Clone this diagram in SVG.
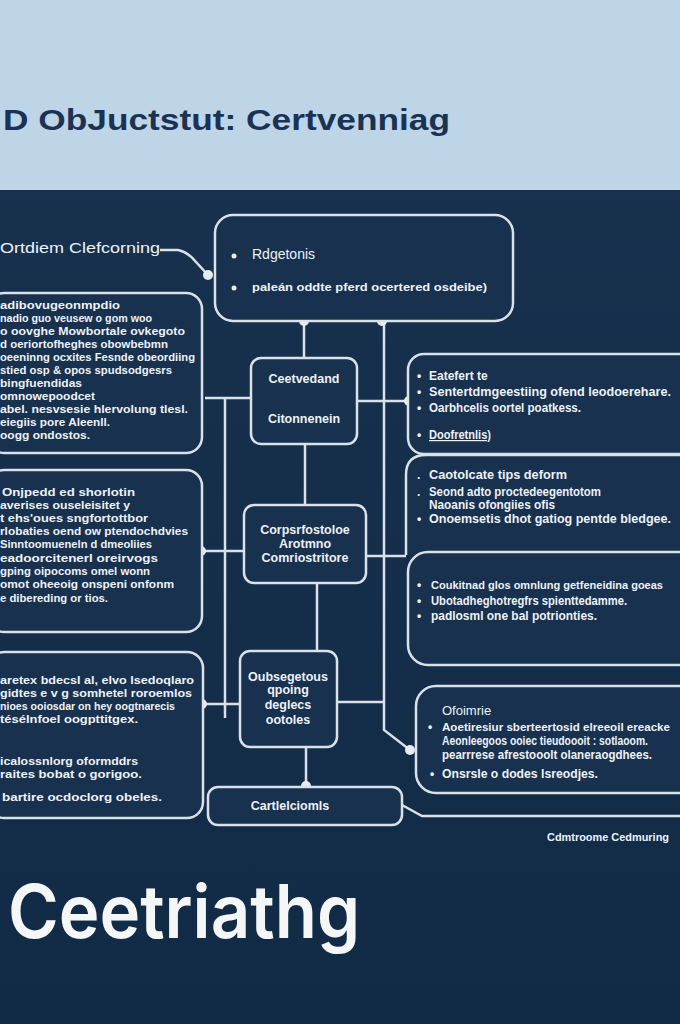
<svg xmlns="http://www.w3.org/2000/svg" width="680" height="1024" viewBox="0 0 680 1024">
<defs>
<linearGradient id="bg" x1="0" y1="0" x2="0" y2="1">
<stop offset="0" stop-color="#18324f"/>
<stop offset="1" stop-color="#112b47"/>
</linearGradient>
<style>
.box{fill:#17314e;stroke:#d9e1e9;stroke-width:2.5}
.ln{fill:none;stroke:#d9e1e9;stroke-width:2.5}
.dot{fill:#e6ecf2}
.t{font-family:"Liberation Sans",Arial,sans-serif;fill:#eef2f6}
.s{font-size:11.5px;font-weight:bold}
.m{font-size:12px;font-weight:bold}
.c{font-size:12.5px;font-weight:bold;text-anchor:middle}
</style>
</defs>
<rect width="680" height="1024" fill="url(#bg)"/>
<rect width="680" height="190" fill="#bdd5e7"/>
<text x="3" y="130" class="t" style="font-size:29px;font-weight:bold;fill:#1b3352" textLength="447" lengthAdjust="spacingAndGlyphs">D ObJuctstut: Certvenniag</text>

<g id="connectors">
<path class="ln" d="M160 250 L178 250 Q188 252 196 262 L208 275"/>
<path class="ln" d="M304 321 V358"/>
<path class="ln" d="M384 321 V730 L410 750"/>
<path class="ln" d="M205 398 H251"/>
<path class="ln" d="M225 398 V718"/>
<path class="ln" d="M357 401 H409"/>
<path class="ln" d="M305 444 V505"/>
<path class="ln" d="M201 551 H244"/>
<path class="ln" d="M366 556 H406"/>
<path class="ln" d="M317 583 V651"/>
<path class="ln" d="M203 704 H240"/>
<path class="ln" d="M337 702 H384"/>
<path class="ln" d="M306 747 V787"/>
<path class="ln" d="M402 805 L422 816 H680"/>
<circle class="dot" cx="208" cy="275" r="5"/>
<circle class="dot" cx="304" cy="321" r="5"/>
<circle class="dot" cx="382" cy="321" r="5"/>
<circle class="dot" cx="409" cy="401" r="5"/>
<circle class="dot" cx="201" cy="551" r="5"/>
<circle class="dot" cx="202" cy="704" r="5"/>
<circle class="dot" cx="410" cy="750" r="5"/>
<circle class="dot" cx="306" cy="786" r="5"/>
</g>

<g id="label-top">
<text x="0" y="253" class="t" style="font-size:15px" textLength="160" lengthAdjust="spacingAndGlyphs">Ortdiem Clefcorning</text>
</g>

<g id="top-box">
<rect class="box" x="215" y="215" width="298" height="106" rx="18"/>
<circle class="dot" cx="234" cy="256" r="2.5"/>
<circle class="dot" cx="234" cy="288" r="2.5"/>
<text x="252" y="259" class="t" style="font-size:14px">Rdgetonis</text>
<text x="252" y="291" class="t s" textLength="235" lengthAdjust="spacingAndGlyphs">paleán oddte pferd ocertered osdeibe)</text>
</g>

<g id="left-1">
<rect class="box" x="-12" y="293" width="214" height="160" rx="16"/>
<text class="t s" x="0" y="309" textLength="120" lengthAdjust="spacingAndGlyphs">adibovugeonmpdio</text>
<text class="t s" x="0" y="322" textLength="152" lengthAdjust="spacingAndGlyphs">nadio guo veusew o gom woo</text>
<text class="t s" x="0" y="335" textLength="185" lengthAdjust="spacingAndGlyphs">o oovghe Mowbortale ovkegoto</text>
<text class="t s" x="0" y="348" textLength="168" lengthAdjust="spacingAndGlyphs">d oeriortofheghes obowbebmn</text>
<text class="t s" x="0" y="361" textLength="195" lengthAdjust="spacingAndGlyphs">oeeninng ocxites Fesnde obeordiing</text>
<text class="t s" x="0" y="374" textLength="172" lengthAdjust="spacingAndGlyphs">stied osp &amp; opos spudsodgesrs</text>
<text class="t s" x="0" y="387" textLength="82" lengthAdjust="spacingAndGlyphs">bingfuendidas</text>
<text class="t s" x="0" y="400" textLength="95" lengthAdjust="spacingAndGlyphs">omnowepoodcet</text>
<text class="t s" x="0" y="413" textLength="188" lengthAdjust="spacingAndGlyphs">abel. nesvsesie hlervolung tlesl.</text>
<text class="t s" x="0" y="426" textLength="110" lengthAdjust="spacingAndGlyphs">eiegiis pore Aleenll.</text>
<text class="t s" x="0" y="439" textLength="90" lengthAdjust="spacingAndGlyphs">oogg ondostos.</text>
</g>

<g id="center-1">
<rect class="box" x="251" y="358" width="106" height="86" rx="10"/>
<text class="t c" x="304" y="383">Ceetvedand</text>
<text class="t c" x="304" y="423">Citonnenein</text>
</g>

<g id="right-1">
<rect class="box" x="408" y="354" width="292" height="100" rx="16"/>
<text class="t m" x="417" y="380">•</text>
<text class="t m" x="429" y="380">Eatefert te</text>
<text class="t m" x="417" y="396">•</text>
<text class="t m" x="429" y="396" textLength="242" lengthAdjust="spacingAndGlyphs">Sentertdmgeestiing ofend leodoerehare.</text>
<text class="t m" x="417" y="412">•</text>
<text class="t m" x="429" y="412" textLength="152" lengthAdjust="spacingAndGlyphs">Oarbhcelis oortel poatkess.</text>
<text class="t m" x="417" y="439">•</text>
<text class="t m" x="429" y="439" text-decoration="underline" textLength="62" lengthAdjust="spacingAndGlyphs">Doofretnlis)</text>
</g>

<g id="left-2">
<rect class="box" x="-12" y="470" width="214" height="162" rx="16"/>
<text class="t s" x="2" y="496" textLength="133" lengthAdjust="spacingAndGlyphs">Onjpedd ed shorlotin</text>
<text class="t s" x="0" y="509" textLength="130" lengthAdjust="spacingAndGlyphs">averises ouseleisitet y</text>
<text class="t s" x="0" y="522" textLength="148" lengthAdjust="spacingAndGlyphs">t ehs'oues sngfortottbor</text>
<text class="t s" x="0" y="535" textLength="188" lengthAdjust="spacingAndGlyphs">rlobaties oend ow ptendochdvies</text>
<text class="t s" x="0" y="548" textLength="152" lengthAdjust="spacingAndGlyphs">Sinntoomueneln d dmeoliies</text>
<text class="t s" x="0" y="562" textLength="158" lengthAdjust="spacingAndGlyphs">eadoorcitenerl oreirvogs</text>
<text class="t s" x="0" y="575" textLength="150" lengthAdjust="spacingAndGlyphs">gping oipocoms omel wonn</text>
<text class="t s" x="0" y="588" textLength="174" lengthAdjust="spacingAndGlyphs">omot oheeoig onspeni onfonm</text>
<text class="t s" x="0" y="602" textLength="108" lengthAdjust="spacingAndGlyphs">e dibereding or tios.</text>
</g>

<g id="center-2">
<rect class="box" x="244" y="505" width="122" height="78" rx="10"/>
<text class="t c" x="305" y="534">Corpsrfostoloe</text>
<text class="t c" x="305" y="548">Arotmno</text>
<text class="t c" x="305" y="562">Comriostritore</text>
</g>

<g id="right-2">
<path class="box" d="M406 555 V475 Q406 455 426 455 H700 V555"/>
<text class="t m" x="417" y="479">.</text>
<text class="t m" x="429" y="479" textLength="138" lengthAdjust="spacingAndGlyphs">Caotolcate tips deform</text>
<text class="t m" x="417" y="496">.</text>
<text class="t m" x="429" y="496" textLength="172" lengthAdjust="spacingAndGlyphs">Seond adto proctedeegentotom</text>
<text class="t m" x="429" y="509" textLength="126" lengthAdjust="spacingAndGlyphs">Naoanis ofongiies ofis</text>
<text class="t m" x="417" y="523">•</text>
<text class="t m" x="429" y="523" textLength="242" lengthAdjust="spacingAndGlyphs">Onoemsetis dhot gatiog pentde bledgee.</text>
</g>

<g id="right-3">
<rect class="box" x="408" y="552" width="292" height="113" rx="20"/>
<text class="t m" x="417" y="589">•</text>
<text class="t" x="431" y="589" style="font-size:10px;font-weight:bold" textLength="232" lengthAdjust="spacingAndGlyphs">Coukitnad glos omnlung getfeneidina goeas</text>
<text class="t m" x="417" y="605">•</text>
<text class="t m" x="431" y="605" textLength="196" lengthAdjust="spacingAndGlyphs">Ubotadheghotregfrs spienttedamme.</text>
<text class="t m" x="417" y="620">•</text>
<text class="t m" x="431" y="620" textLength="166" lengthAdjust="spacingAndGlyphs">padlosml one bal potrionties.</text>
</g>

<g id="left-3">
<rect class="box" x="-12" y="652" width="215" height="166" rx="16"/>
<text class="t s" x="0" y="684" textLength="194" lengthAdjust="spacingAndGlyphs">aretex bdecsl al, elvo lsedoqlaro</text>
<text class="t s" x="0" y="697" textLength="192" lengthAdjust="spacingAndGlyphs">gidtes e v g somhetel roroemlos</text>
<text class="t s" x="0" y="710" textLength="175" lengthAdjust="spacingAndGlyphs">nioes ooiosdar on hey oogtnarecis</text>
<text class="t s" x="0" y="723" textLength="138" lengthAdjust="spacingAndGlyphs">tésélnfoel oogpttitgex.</text>
<text class="t s" x="0" y="765" textLength="138" lengthAdjust="spacingAndGlyphs">icalossnlorg oformddrs</text>
<text class="t s" x="0" y="778" textLength="142" lengthAdjust="spacingAndGlyphs">raites bobat o gorigoo.</text>
<text class="t s" x="2" y="801" textLength="160" lengthAdjust="spacingAndGlyphs">bartire ocdoclorg obeles.</text>
</g>

<g id="center-3">
<rect class="box" x="240" y="651" width="97" height="96" rx="10"/>
<text class="t c" x="288" y="681">Oubsegetous</text>
<text class="t c" x="288" y="694">qpoing</text>
<text class="t c" x="288" y="709">deglecs</text>
<text class="t c" x="288" y="724">ootoles</text>
</g>

<g id="right-4">
<rect class="box" x="416" y="686" width="284" height="107" rx="20"/>
<text class="t" x="442" y="715" style="font-size:13px">Ofoimrie</text>
<text class="t m" x="428" y="731">•</text>
<text class="t" x="442" y="731" style="font-size:10px;font-weight:bold" textLength="228" lengthAdjust="spacingAndGlyphs">Aoetiresiur sberteertosid elreeoil ereacke</text>
<text class="t m" x="442" y="745" textLength="206" lengthAdjust="spacingAndGlyphs">Aeonleegoos ooiec tieudoooit : sotlaoom.</text>
<text class="t m" x="442" y="759" textLength="210" lengthAdjust="spacingAndGlyphs">pearrrese afrestooolt olaneraogdhees.</text>
<text class="t m" x="430" y="778">•</text>
<text class="t m" x="442" y="778" textLength="156" lengthAdjust="spacingAndGlyphs">Onsrsle o dodes lsreodjes.</text>
</g>

<g id="bottom-box">
<rect class="box" x="208" y="787" width="194" height="38" rx="10"/>
<text class="t c" x="290" y="810">Cartlelciomls</text>
</g>

<g id="footer">
<text class="t" x="547" y="841" style="font-size:10.5px;font-weight:bold" textLength="122" lengthAdjust="spacingAndGlyphs">Cdmtroome Cedmuring</text>
<text x="8" y="938" style="font-family:Inter,'Liberation Sans',sans-serif;font-size:74px;font-weight:600;fill:#f4f6f8" textLength="352" lengthAdjust="spacingAndGlyphs">Ceetriathg</text>
</g>
</svg>
